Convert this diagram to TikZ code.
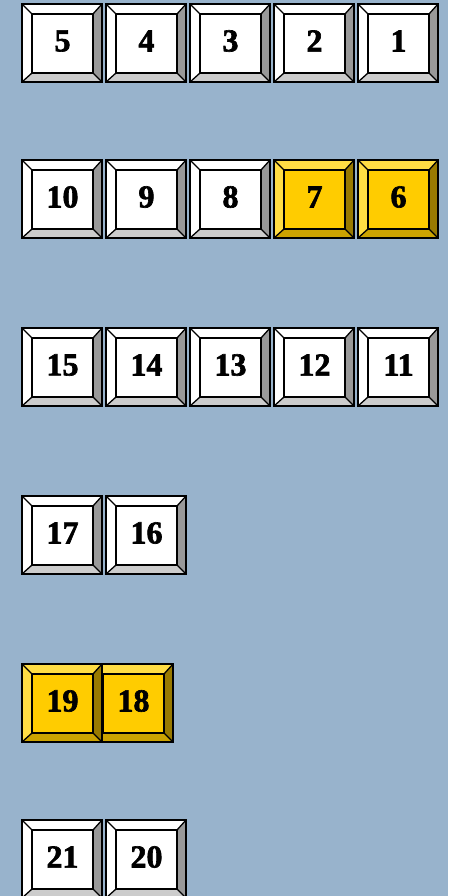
\documentclass[tikz,border=0pt]{standalone}
\usepackage{fontspec}
\setmainfont{Liberation Serif}
\newfontfamily\keyfont[FakeBold=2]{Liberation Serif}
\definecolor{bg}{HTML}{98B3CC}
\definecolor{wface}{HTML}{FFFFFF}
\definecolor{wtop}{HTML}{FFFFFF}
\definecolor{wright}{HTML}{999999}
\definecolor{wbottom}{HTML}{CCCCCC}
\definecolor{gface}{HTML}{FFCC00}
\definecolor{gtop}{HTML}{FFDD44}
\definecolor{gright}{HTML}{997A00}
\definecolor{gbottom}{HTML}{CCA300}
\tikzset{
  keylabel/.style={font=\keyfont\bfseries\fontsize{32}{32}\selectfont, inner sep=0pt, anchor=center},
  keyedge/.style={draw=black, line width=2pt},
  keyline/.style={draw=black, line width=1.3pt},
}
% #1 name, #2 x, #3 y, #4 label, #5 prefix (w or g)
\newcommand\keycap[5]{%
  \begin{scope}[shift={(#2,#3)}]
    \fill[#5face] (10,10) rectangle (71,69);
    \fill[#5top] (0,0) -- (80,0) -- (71,10) -- (10,10) -- cycle;
    \fill[#5top] (0,0) -- (10,10) -- (10,69) -- (0,78) -- cycle;
    \fill[#5right] (80,0) -- (80,78) -- (71,69) -- (71,10) -- cycle;
    \fill[#5bottom] (0,78) -- (80,78) -- (71,69) -- (10,69) -- cycle;
    \draw[keyline] (0,0) -- (10,10) (80,0) -- (71,10) (0,78) -- (10,69) (80,78) -- (71,69);
    \draw[keyedge] (10,10) rectangle (71,69);
    \draw[keyedge] (0,0) rectangle (80,78);
    \node[keylabel] (#1) at (40.5,37) {#4};
  \end{scope}}
\begin{document}
\begin{tikzpicture}[x=1pt,y=-1pt]
\fill[bg] (0,0) rectangle (448,896);
\useasboundingbox (0,0) rectangle (448,896);
% row 1
\keycap{k5}{22}{4}{5}{w}
\keycap{k4}{106}{4}{4}{w}
\keycap{k3}{190}{4}{3}{w}
\keycap{k2}{274}{4}{2}{w}
\keycap{k1}{358}{4}{1}{w}
% row 2
\keycap{k10}{22}{160}{10}{w}
\keycap{k9}{106}{160}{9}{w}
\keycap{k8}{190}{160}{8}{w}
\keycap{k7}{274}{160}{7}{g}
\keycap{k6}{358}{160}{6}{g}
% row 3
\keycap{k15}{22}{328}{15}{w}
\keycap{k14}{106}{328}{14}{w}
\keycap{k13}{190}{328}{13}{w}
\keycap{k12}{274}{328}{12}{w}
\keycap{k11}{358}{328}{11}{w}
% row 4
\keycap{k17}{22}{496}{17}{w}
\keycap{k16}{106}{496}{16}{w}
% row 5
\keycap{k18}{93}{664}{18}{g}
\keycap{k19}{22}{664}{19}{g}
% row 6
\keycap{k21}{22}{820}{21}{w}
\keycap{k20}{106}{820}{20}{w}
\end{tikzpicture}
\end{document}
